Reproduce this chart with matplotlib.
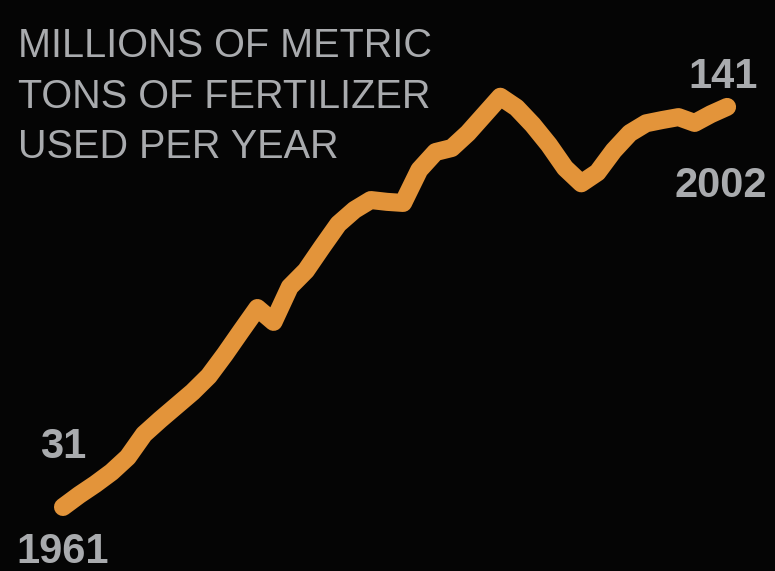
import matplotlib
matplotlib.use("Agg")
import matplotlib.pyplot as plt

# valori (milioni di tonnellate di fertilizzante)
years = list(range(1961, 2003))
tons = [31, 34.3, 37.3, 40.6, 44.7, 51, 55, 58.8, 62.6, 67,
        73, 79.4, 85.7, 81.9, 91.5, 96, 102.5, 108.8, 112.7, 115.4,
        114.9, 114.6, 123.7, 128.6, 129.7, 133.8, 138.8, 143.8, 140.8, 136.1,
        130.6, 124.2, 120, 123, 129, 133.8, 136.5, 137.4, 138.2, 136.6,
        139, 141]

title_lines = ["MILLIONS OF METRIC", "TONS OF FERTILIZER", "USED PER YEAR"]
start_label = ("31", "1961")
end_label = ("141", "2002")

W, H = 775, 571
bg = "#050505"
text_col = "#a9abae"
line_col = "#e3943a"

fig = plt.figure(figsize=(W / 100, H / 100), dpi=100, facecolor=bg)
ax = fig.add_axes([0, 0, 1, 1])
ax.set_facecolor(bg)

ax.plot(years, tons, color=line_col, linewidth=13,
        solid_joinstyle="round", solid_capstyle="round")

# limiti scelti per posizionare la linea come nell'originale
ax.set_xlim(1957.11, 2004.96)
ax.set_ylim(13.4, 170.4)
ax.axis("off")


def px(x, y):
    return x / W, 1 - y / H


# titolo
for i, line in enumerate(title_lines):
    fig.text(*px(18, 57 + 50.5 * i), line, fontsize=28.5, color=text_col,
             family="Liberation Sans", va="baseline", ha="left")

# etichette inizio / fine
fig.text(*px(40, 458), start_label[0], fontsize=30, fontweight="bold",
         color=text_col, family="Liberation Sans", va="baseline")
fig.text(*px(16, 563), start_label[1], fontsize=30, fontweight="bold",
         color=text_col, family="Liberation Sans", va="baseline")
fig.text(*px(688, 88), end_label[0], fontsize=30, fontweight="bold",
         color=text_col, family="Liberation Sans", va="baseline")
fig.text(*px(674, 197), end_label[1], fontsize=30, fontweight="bold",
         color=text_col, family="Liberation Sans", va="baseline")

plt.savefig("out.png", dpi=100, facecolor=bg)
